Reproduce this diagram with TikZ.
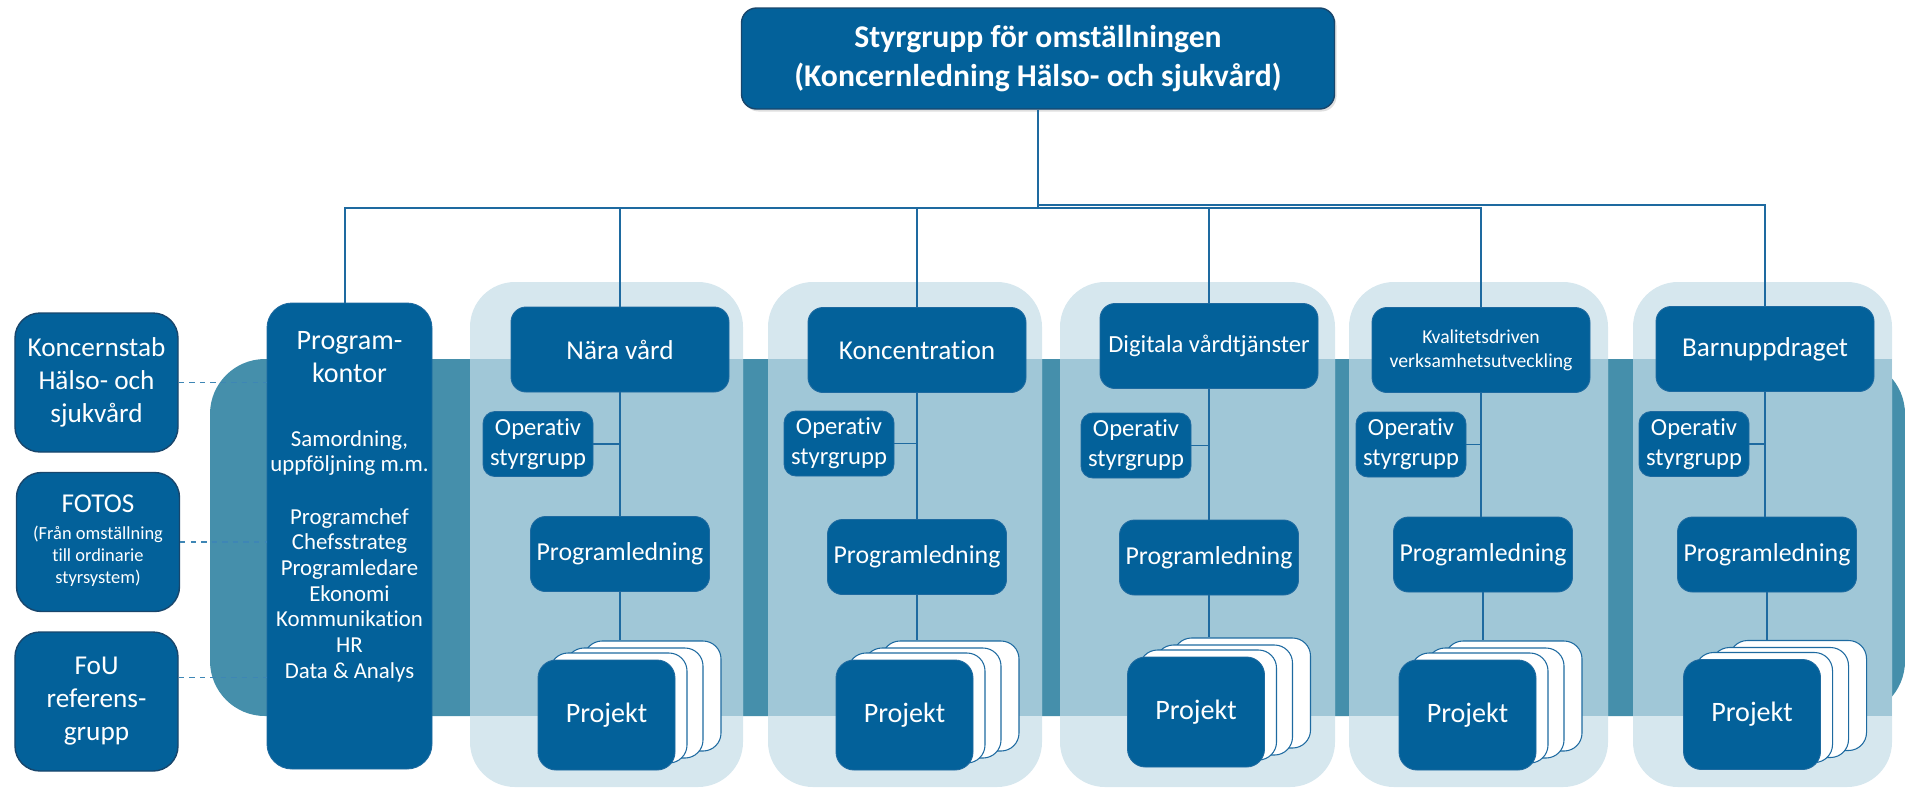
\documentclass[tikz,border=0pt]{standalone}
\usepackage{fontspec}
\setmainfont[Ligatures=NoCommon]{Carlito}
\usepackage{tikz}
\usetikzlibrary{positioning,shadows}
\usepackage{xcolor}
\definecolor{kblue}{RGB}{3,97,154}
\definecolor{kborder}{RGB}{24,70,108}
\definecolor{kline}{RGB}{30,106,160}
\definecolor{kteal}{RGB}{69,143,171}
\definecolor{kpale}{RGB}{214,231,238}
\definecolor{kmid}{RGB}{160,199,215}
\definecolor{kdash}{RGB}{62,134,181}
\tikzstyle{topbox} = [rectangle, rounded corners=3mm, minimum width=118.6mm, minimum height=20.2mm, align=center, draw=kborder, fill=kblue, text=white, line width=0.8pt, font=\fontsize{18}{22}\selectfont\bfseries, drop shadow={opacity=0.25, shadow xshift=0.4mm, shadow yshift=-0.5mm}]
\tikzstyle{sidebox} = [rectangle, rounded corners=5mm, minimum width=32.6mm, minimum height=27.8mm, inner sep=1mm, align=center, draw=kborder, fill=kblue, text=white, line width=0.8pt, font=\fontsize{15.5}{18.8}\selectfont]
\tikzstyle{office} = [rectangle, rounded corners=5mm, minimum width=33mm, minimum height=93.2mm, draw=kline, fill=kblue, line width=0.5pt]
\tikzstyle{officetext} = [align=center, text=white, inner sep=0pt]
\tikzstyle{area} = [rectangle, rounded corners=3mm, minimum width=43.6mm, minimum height=17mm, inner sep=1mm, align=center, draw=kline, fill=kblue, text=white, line width=0.5pt, font=\fontsize{15.5}{18.8}\selectfont]
\tikzstyle{opgroup} = [rectangle, rounded corners=2.4mm, minimum width=22mm, minimum height=13mm, inner sep=0.5mm, align=center, draw=kline, fill=kblue, text=white, line width=0.5pt, font=\fontsize{14}{17}\selectfont]
\tikzstyle{lead} = [rectangle, rounded corners=3mm, minimum width=35.8mm, minimum height=15mm, inner sep=1mm, align=center, draw=kline, fill=kblue, text=white, line width=0.5pt, font=\fontsize{14.7}{17}\selectfont]
\tikzstyle{project} = [rectangle, rounded corners=3.6mm, minimum width=27.4mm, minimum height=22mm, align=center, draw=kline, fill=kblue, text=white, line width=0.5pt, font=\fontsize{16}{19}\selectfont]
\tikzstyle{card} = [rectangle, rounded corners=3.6mm, minimum width=27.4mm, minimum height=22mm, draw=kline, fill=white, line width=0.6pt]
\tikzstyle{link} = [kline, line width=0.8pt]
\tikzstyle{dashlink} = [kdash, dashed, line width=0.8pt]

\begin{document}
\begin{tikzpicture}[x=0.2mm, y=-0.2mm]
\useasboundingbox (0,0) rectangle (1905,787);

% Band and program columns
\fill[kteal, rounded corners=11mm] (210,359) rectangle (1905,716);
\foreach \xa/\xb in {470/743, 768/1042, 1060/1335, 1349/1608, 1633/1892} {
  \fill[kpale, rounded corners=9mm] (\xa,282) rectangle (\xb,787);
  \fill[kmid] (\xa,359) rectangle (\xb,716);
}

% Steering group
\node[topbox] (top) at (1038,58.5) {Styrgrupp för omställningen\\(Koncernledning Hälso- och sjukvård)};

% Support to the left
\node[sidebox] (ks) at (96.5,382.5) {Koncernstab\\Hälso- och\\sjukvård};
\node[sidebox] (fotos) at (98,542) {FOTOS\\[-1.2mm]{\fontsize{10.5}{12.5}\selectfont\begin{tabular}[t]{@{}c@{}}(Från omställning\\till ordinarie\\styrsystem)\end{tabular}}};
\node[sidebox] (fou) at (96.5,701.5) {FoU\\referens-\\grupp};

% Program office
\node[office] (pk) at (349.5,536) {};
\node[officetext, font=\fontsize{16}{18.8}\selectfont] (pktitle) at (349.5,357) {Program-\\kontor};
\node[officetext, font=\fontsize{13}{14.2}\selectfont] (pktask) at (349.5,453) {Samordning,\\uppföljning m.m.};
\node[officetext, font=\fontsize{13}{14.6}\selectfont] (pkstaff) at (349.5,595) {Programchef\\Chefsstrateg\\Programledare\\Ekonomi\\Kommunikation\\HR\\Data \& Analys};

% Program areas
\node[area] (nv) at (620,349.5) {Nära vård};
\node[area] (kc) at (917,350) {Koncentration};
\node[area, font=\fontsize{14}{17}\selectfont] (dv) at (1209,346) {Digitala vårdtjänster};
\node[area, font=\fontsize{11.2}{13.7}\selectfont] (kv) at (1481,350) {Kvalitetsdriven\\verksamhetsutveckling};
\node[area] (bu) at (1765,349) {Barnuppdraget};

% Operative steering groups
\node[opgroup] (op1) at (538,444) {Operativ\\styrgrupp};
\node[opgroup] (op2) at (839,443.5) {Operativ\\styrgrupp};
\node[opgroup] (op3) at (1136,445.5) {Operativ\\styrgrupp};
\node[opgroup] (op4) at (1411,444.5) {Operativ\\styrgrupp};
\node[opgroup] (op5) at (1694,444) {Operativ\\styrgrupp};

% Program management
\node[lead] (pl1) at (620,554) {Programledning};
\node[lead] (pl2) at (917,557) {Programledning};
\node[lead] (pl3) at (1209,557.5) {Programledning};
\node[lead] (pl4) at (1483,554.5) {Programledning};
\node[lead] (pl5) at (1767,554.5) {Programledning};

% Project stacks
\foreach \n/\cx/\cy in {1/606.5/715, 2/904.5/715, 3/1196/712, 4/1467.5/715, 5/1752/714.5} {
  \node[card] (prc\n) at (\cx+46,\cy-19) {};
  \node[card] (prb\n) at (\cx+28,\cy-12) {};
  \node[card] (pra\n) at (\cx+12,\cy-7) {};
}
\node[project] (pr1) at (606.5,715) {Projekt};
\node[project] (pr2) at (904.5,715) {Projekt};
\node[project] (pr3) at (1196,712) {Projekt};
\node[project] (pr4) at (1467.5,715) {Projekt};
\node[project] (pr5) at (1752,714.5) {Projekt};

% Tree from the steering group
\coordinate (busL) at (1038,208);
\coordinate (busR) at (1038,205);
\draw[link] (top.south) -- (busR);
\draw[link] (busR) -- (busL);
\draw[link] (busL) -| ([xshift=-0.9mm]pk.north);
\draw[link] (busL) -| (nv.north);
\draw[link] (busL) -| (kc.north);
\draw[link] (busL) -| (dv.north);
\draw[link] (busL) -| (kv.north);
\draw[link] (busR) -| (bu.north);

% Inside the columns
\foreach \a/\n in {nv/1, kc/2, dv/3, kv/4, bu/5} {
  \draw[link] (\a.south) -- (\a.south |- pl\n.north);
  \draw[link] (op\n.east) -- (op\n.east -| \a.south);
  \draw[link] (pl\n.south) -- (pl\n.south |- prc\n.north);
}

% Dashed links to the program office
\coordinate (foulink) at ([yshift=4.8mm]fou.east);
\draw[dashlink] (ks.east) -- (ks.east -| pk.west);
\draw[dashlink] (fotos.east) -- (fotos.east -| pk.west);
\draw[dashlink] (foulink) -- (foulink -| pk.west);
\end{tikzpicture}
\end{document}
